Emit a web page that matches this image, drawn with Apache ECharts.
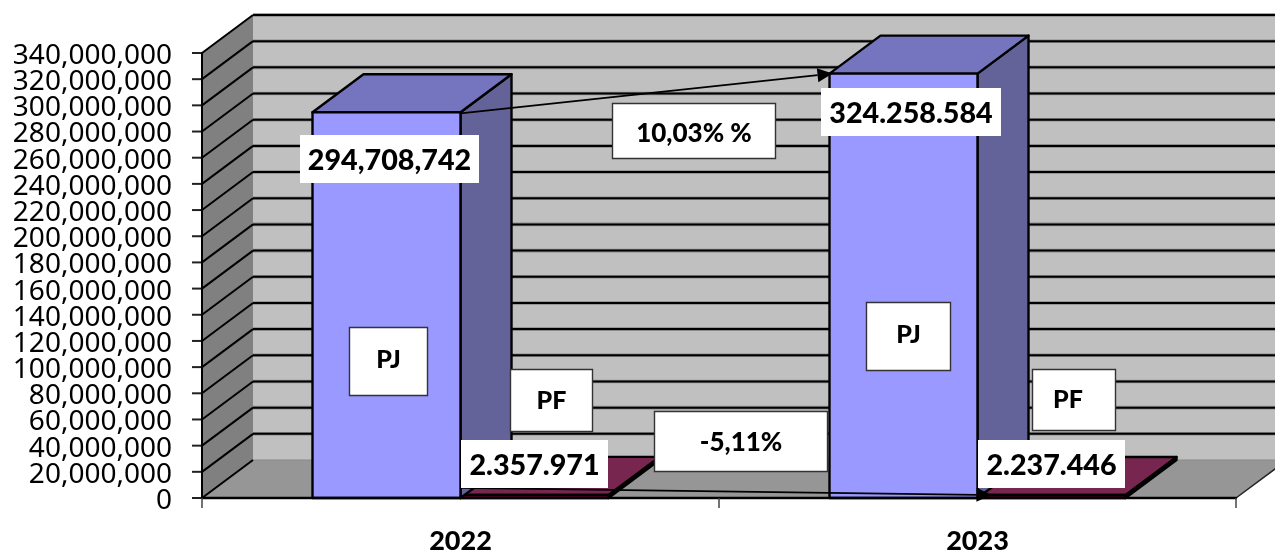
<!DOCTYPE html>
<html><head><meta charset="utf-8">
<style>html,body{margin:0;padding:0;background:#fff}#c{width:1275px;height:551px}</style>
<script src="https://cdn.jsdelivr.net/npm/echarts@6/dist/echarts.min.js"></script>
</head><body><div id="c"></div>
<script>
const categories = ['2022', '2023'];
const pjValues = [294708742, 324258584];
const pfValues = [2357971, 2237446];
const tickValues = [0,20000000,40000000,60000000,80000000,100000000,120000000,140000000,160000000,180000000,200000000,220000000,240000000,260000000,280000000,300000000,320000000,340000000];
const pjLabels = ['294,708,742', '324.258.584'];
const pfLabels = ['2.357.971', '2.237.446'];
const pjChange = '10,03% %';
const pfChange = '-5,11%';

const DX = 51, DY = -38, BW = 148;
const poly = (pts, fill, stroke, lw) => ({type:'polygon', shape:{points:pts}, style:{fill, stroke: stroke||null, lineWidth: lw||0, lineJoin:'round'}});
const line = (a, b, stroke, lw) => ({type:'line', shape:{x1:a[0],y1:a[1],x2:b[0],y2:b[1]}, style:{stroke, lineWidth:lw}});

function barShape(x0, x1, yTop, yBase, cFront, cTop, cSide) {
  const lw = 2.4, k = '#000';
  return [
    poly([[x1,yTop],[x1+DX,yTop+DY],[x1+DX,yBase+DY],[x1,yBase]], cSide, k, lw),
    poly([[x0,yTop],[x0+DX,yTop+DY],[x1+DX,yTop+DY],[x1,yTop]], cTop, k, lw),
    poly([[x0,yTop],[x1,yTop],[x1,yBase],[x0,yBase]], cFront, k, lw)
  ];
}
function barSeries(values, side, cFront, cTop, cSide, z) {
  return {
    type:'custom', z, data: values.map((v,i)=>[i,v]), encode:{x:0,y:1},
    renderItem(params, api) {
      const c = api.coord([api.value(0), api.value(1)]);
      const b = api.coord([api.value(0), 0]);
      const x0 = side < 0 ? c[0]-BW : c[0];
      return {type:'group', children: barShape(x0, x0+BW, c[1], b[1], cFront, cTop, cSide)};
    }
  };
}
function arrow(a, b) {
  const ang = Math.atan2(b[1]-a[1], b[0]-a[0]), L = 15, W = 7;
  const cx = b[0]-L*Math.cos(ang), cy = b[1]-L*Math.sin(ang);
  const nx = -Math.sin(ang), ny = Math.cos(ang);
  return [line(a,[cx,cy],'#000',1.8), poly([b,[cx+nx*W,cy+ny*W],[cx-nx*W,cy-ny*W]],'#000')];
}
function box(x,y,w,h,text,size,framed,tx,ty) {
  return [
    {type:'rect', z:20, shape:{x,y,width:w,height:h}, style:{fill:'#fff', stroke: framed?'#333':null, lineWidth: framed?1.4:0}},
    {type:'text', z:21, x:x+w/2+(tx||0), y:y+h/2+(ty||0), style:{text, fill:'#000', font:`900 ${size}px Lato`, align:'center', verticalAlign:'middle'}}
  ];
}

const option = {
  animation:false, backgroundColor:'#fff',
  grid:{left:202, right:39, top:53, bottom:53, outerBoundsMode:'none', containLabel:false},
  xAxis:{type:'category', data:categories, z:6,
    axisLine:{lineStyle:{color:'#000',width:2.4}},
    axisTick:{show:true, length:10, alignWithLabel:false, lineStyle:{color:'#444',width:1.5}},
    axisLabel:{margin:30, color:'#000', fontFamily:'Lato', fontWeight:900, fontSize:27},
    splitLine:{show:false}},
  yAxis:{type:'value', min:0, max:340000000, interval:20000000, z:6,
    axisLine:{show:true, lineStyle:{color:'#000',width:2}},
    axisTick:{show:false},
    axisLabel:{show:false},
    splitLine:{show:false}},
  series:[
    { type:'custom', z:1, data:tickValues.map(v=>[0,v]), encode:{x:0,y:1}, clip:false,
      renderItem(params, api) {
        const cs = params.coordSys, L = cs.x, R = cs.x+cs.width;
        const v = api.value(1), y = api.coord([0,v])[1];
        const kids = [];
        if (params.dataIndex === 0) {
          const T = cs.y, B = cs.y+cs.height;
          kids.push(poly([[L+DX,T+DY],[R+DX,T+DY],[R+DX,B+DY],[L+DX,B+DY]],'#C0C0C0'));
          kids.push(poly([[L,T],[L+DX,T+DY],[L+DX,B+DY],[L,B]],'#808080'));
          kids.push(poly([[L,B],[L+DX,B+DY],[R+DX,B+DY],[R,B]],'#969696'));
          kids.push(line([R,B],[R+DX,B+DY],'#222',1.5));
          kids.push(line([L+DX,B+DY],[R+DX,B+DY],'#8a8a8a',1));
          kids.push(line([L,B],[L+DX,B+DY],'#000',2));
        } else {
          kids.push(line([L+DX,y+DY],[R+DX,y+DY],'#8a8a8a',3.6));
          kids.push(line([L+DX,y+DY],[R+DX,y+DY],'#000',2));
          kids.push(line([L,y],[L+DX,y+DY],'#000',2));
        }
        kids.push(line([L-10,y],[L,y],'#222',2));
        kids.push({type:'text', style:{text:v.toLocaleString('en-US'), x:L-30, y:y+3, align:'right', verticalAlign:'middle', fill:'#000', font:'28px "Noto Sans"'}});
        return {type:'group', children:kids};
      }
    },
    barSeries(pfValues, 1, '#660033', '#772650', '#4d0026', 2),
    barSeries(pjValues, -1, '#9999FF', '#7575BF', '#636399', 3),
    { type:'custom', z:8, data:[[0,pjValues[0],1,pjValues[1],pfValues[0],pfValues[1]]], encode:{x:0,y:1}, clip:false,
      renderItem(params, api) {
        const a = api.coord([0,api.value(1)]), b = api.coord([1,api.value(3)]);
        const c = api.coord([0,api.value(4)]), d = api.coord([1,api.value(5)]);
        return {type:'group', children:[
          ...arrow([a[0],a[1]+1],[b[0]-BW+3,b[1]]),
          ...arrow([c[0],c[1]-7],[d[0]+14,d[1]])
        ]};
      }
    }
  ],
  graphic:{elements:[
    ...box(300,135,179,48,pjLabels[0],28.7,false,0,2),
    ...box(821,88,180,48,pjLabels[1],28.7,false,0,2),
    ...box(461,440,147,48,pfLabels[0],28.7,false,0,2),
    ...box(978,440,147,48,pfLabels[1],28.7,false,0,2),
    ...box(612.5,103.5,163,55,pjChange,26,true,0,3),
    ...box(349.5,327.5,78,68,'PJ',25,true,0,-2),
    ...box(866.5,302.5,84,68,'PJ',25,true,0,-2),
    ...box(510.5,369.5,82,62,'PF',25,true,0,0),
    ...box(1032.5,369.5,83,61,'PF',25,true,-6,0),
    ...box(654.5,411.5,173,60,pfChange,26,true,0,1)
  ]}
};
const chart = echarts.init(document.getElementById('c'), null, {renderer:'canvas'});
chart.setOption(option);
</script></body></html>
